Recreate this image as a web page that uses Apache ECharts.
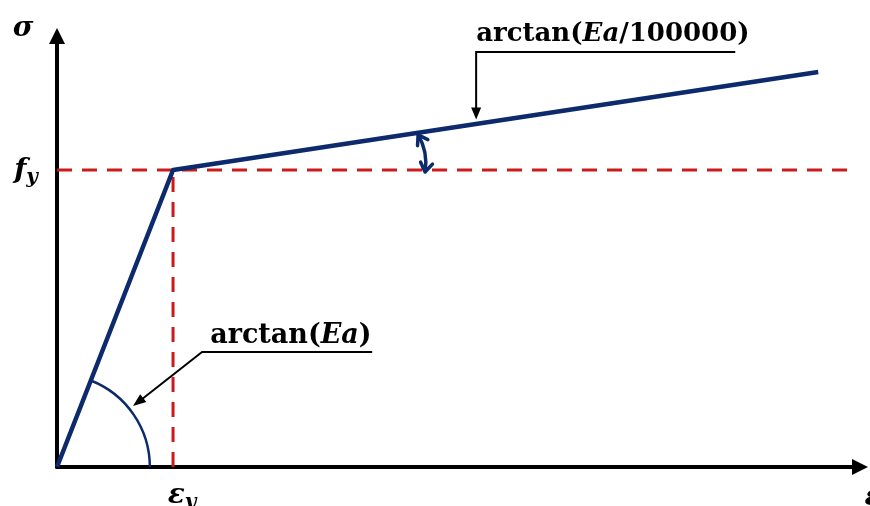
<!DOCTYPE html>
<html><head><meta charset="utf-8">
<script src="https://cdn.jsdelivr.net/npm/echarts@6/dist/echarts.min.js"></script>
<style>html,body{margin:0;padding:0;background:#fff}#c{width:870px;height:506px}</style>
</head><body><div id="c"></div>
<script>
// Bilinear stress-strain model (normalised: eps_y = 1, f_y = 1)
const strain = [0, 1, 6.56];
const stress = [0, 1, 1.33];
const yieldStrain = 1;
const yieldStress = 1;
const xMax = 6.92;
const yMax = 1.451;
const fyLineEnd = 6.82;
const arcRadius = 0.8;            // in strain units
// annotation anchor points (data units)
const upperLeader = [[3.612, 1.17], [3.612, 1.397], [5.845, 1.397]];
const upperText = [3.612, 1.397];
const lowerLeader = [[0.655, 0.205], [1.25, 0.387], [2.716, 0.387]];
const lowerText = [1.32, 0.387];
const angleArrow = [[3.112, 1.118], [3.20, 1.06], [3.172, 0.993]];

const BLUE = '#0c2a6c', RED = '#cc1a1a', BLACK = '#000';
const FONT = '"DejaVu Serif", "Liberation Serif", serif';

const chart = echarts.init(document.getElementById('c'));

function arrowHead(tip, from, len, halfW, color) {
  const dx = tip[0] - from[0], dy = tip[1] - from[1];
  const d = Math.hypot(dx, dy) || 1;
  const ux = dx / d, uy = dy / d;
  const bx = tip[0] - ux * len, by = tip[1] - uy * len;
  return { type: 'polygon', shape: { points: [tip, [bx - uy * halfW, by + ux * halfW], [bx + uy * halfW, by - ux * halfW]] }, style: { fill: color } };
}
function openHead(tip, from, len, halfW, color, w) {
  const dx = tip[0] - from[0], dy = tip[1] - from[1];
  const d = Math.hypot(dx, dy) || 1;
  const ux = dx / d, uy = dy / d;
  const bx = tip[0] - ux * len, by = tip[1] - uy * len;
  return { type: 'polyline', shape: { points: [[bx - uy * halfW, by + ux * halfW], tip, [bx + uy * halfW, by - ux * halfW]] }, style: { stroke: color, lineWidth: w, fill: null, lineCap: 'round', lineJoin: 'round' } };
}

function renderAnn(params, api) {
  const c = p => api.coord(p);
  const o = c([0, 0]);
  const y1 = c([strain[1], stress[1]]);
  const rPx = c([arcRadius, 0])[0] - o[0];
  const ang = Math.atan2(y1[1] - o[1], y1[0] - o[0]);
  const els = [];
  const rich = fs => ({ a: { fontFamily: FONT, fontWeight: 'bold', fontSize: fs, fill: BLACK }, b: { fontFamily: FONT, fontWeight: 'bold', fontStyle: 'italic', fontSize: fs, fill: BLACK } });
  // angle arc
  els.push({ type: 'arc', shape: { cx: o[0], cy: o[1], r: rPx, startAngle: ang, endAngle: 0, clockwise: true }, style: { stroke: BLUE, lineWidth: 2.5, fill: null } });
  // upper leader
  const ul = upperLeader.map(c);
  els.push({ type: 'polyline', shape: { points: [ [ul[0][0], ul[0][1] - 8], ul[1], ul[2] ] }, style: { stroke: BLACK, lineWidth: 2, fill: null } });
  els.push(arrowHead(ul[0], ul[1], 12, 5, BLACK));
  const ut = c(upperText);
  els.push({ type: 'text', x: ut[0], y: ut[1] - 5, style: { text: '{a|arctan(}{b|Ea}{a|/100000)}', textAlign: 'left', textVerticalAlign: 'bottom', rich: rich(26) } });
  // lower leader
  const ll = lowerLeader.map(c);
  const dxl = ll[1][0] - ll[0][0], dyl = ll[1][1] - ll[0][1], dl = Math.hypot(dxl, dyl);
  els.push({ type: 'polyline', shape: { points: [ [ll[0][0] + dxl / dl * 8, ll[0][1] + dyl / dl * 8], ll[1], ll[2] ] }, style: { stroke: BLACK, lineWidth: 2, fill: null } });
  els.push(arrowHead(ll[0], ll[1], 13, 5, BLACK));
  const lt = c(lowerText);
  els.push({ type: 'text', x: lt[0], y: lt[1] - 3, style: { text: '{a|arctan(}{b|Ea}{a|)}', textAlign: 'left', textVerticalAlign: 'bottom', rich: rich(27) } });
  // curved double arrow between lines
  const aa = angleArrow.map(c);
  els.push({ type: 'bezierCurve', shape: { x1: aa[0][0], y1: aa[0][1], cpx1: aa[1][0], cpy1: aa[1][1], x2: aa[2][0], y2: aa[2][1] }, style: { stroke: BLUE, lineWidth: 3.5, fill: null } });
  els.push(openHead(aa[0], aa[1], 9, 6, BLUE, 3.5));
  els.push(openHead(aa[2], aa[1], 9, 6, BLUE, 3.5));
  // axis labels
  const top = c([0, yMax]);
  const fy = c([0, yieldStress]);
  const ey = c([yieldStrain, 0]);
  const xe = c([xMax, 0]);
  const lab = (x, y, main, sub) => ({ type: 'text', x, y, style: { text: sub ? '{m|' + main + '}{s|' + sub + '}' : '{m|' + main + '}', textAlign: 'center', textVerticalAlign: 'middle', rich: { m: { fontFamily: FONT, fontWeight: 'bold', fontStyle: 'italic', fontSize: 28, fill: BLACK }, s: { fontFamily: FONT, fontWeight: 'bold', fontStyle: 'italic', fontSize: 20, fill: BLACK, padding: [14, 0, 0, 0] } } } });
  els.push(lab(top[0] - 34, top[1] - 7, 'σ'));
  els.push(lab(fy[0] - 31, fy[1] + 1, 'f', 'y'));
  els.push(lab(ey[0] + 9, ey[1] + 29, 'ε', 'y'));
  els.push(lab(xe[0] + 13, xe[1] + 31, 'ε'));
  return { type: 'group', children: els };
}

chart.setOption({
  animation: false,
  backgroundColor: '#fff',
  grid: { left: 57, right: 10, top: 36, bottom: 39, containLabel: false },
  xAxis: { type: 'value', min: 0, max: xMax, splitLine: { show: false }, axisTick: { show: false }, axisLabel: { show: false },
    axisLine: { show: true, onZero: true, symbol: ['none', 'triangle'], symbolSize: [16, 16], lineStyle: { color: BLACK, width: 4 } } },
  yAxis: { type: 'value', min: 0, max: yMax, splitLine: { show: false }, axisTick: { show: false }, axisLabel: { show: false },
    axisLine: { show: true, onZero: true, symbol: ['none', 'triangle'], symbolSize: [16, 16], lineStyle: { color: BLACK, width: 4 } } },
  series: [
    { type: 'line', data: [[0, yieldStress], [fyLineEnd, yieldStress]], symbol: 'none', lineStyle: { color: RED, width: 3, type: [15, 10] }, z: 2 },
    { type: 'line', data: [[yieldStrain, 0], [yieldStrain, yieldStress]], symbol: 'none', lineStyle: { color: RED, width: 3, type: [15, 10] }, z: 2 },
    { type: 'line', data: strain.map((e, i) => [e, stress[i]]), symbol: 'none', lineStyle: { color: BLUE, width: 4.5, join: 'round' }, z: 3 },
    { type: 'custom', data: [[0, 0]], renderItem: renderAnn, clip: false, z: 4 }
  ]
});
</script>
</body></html>
